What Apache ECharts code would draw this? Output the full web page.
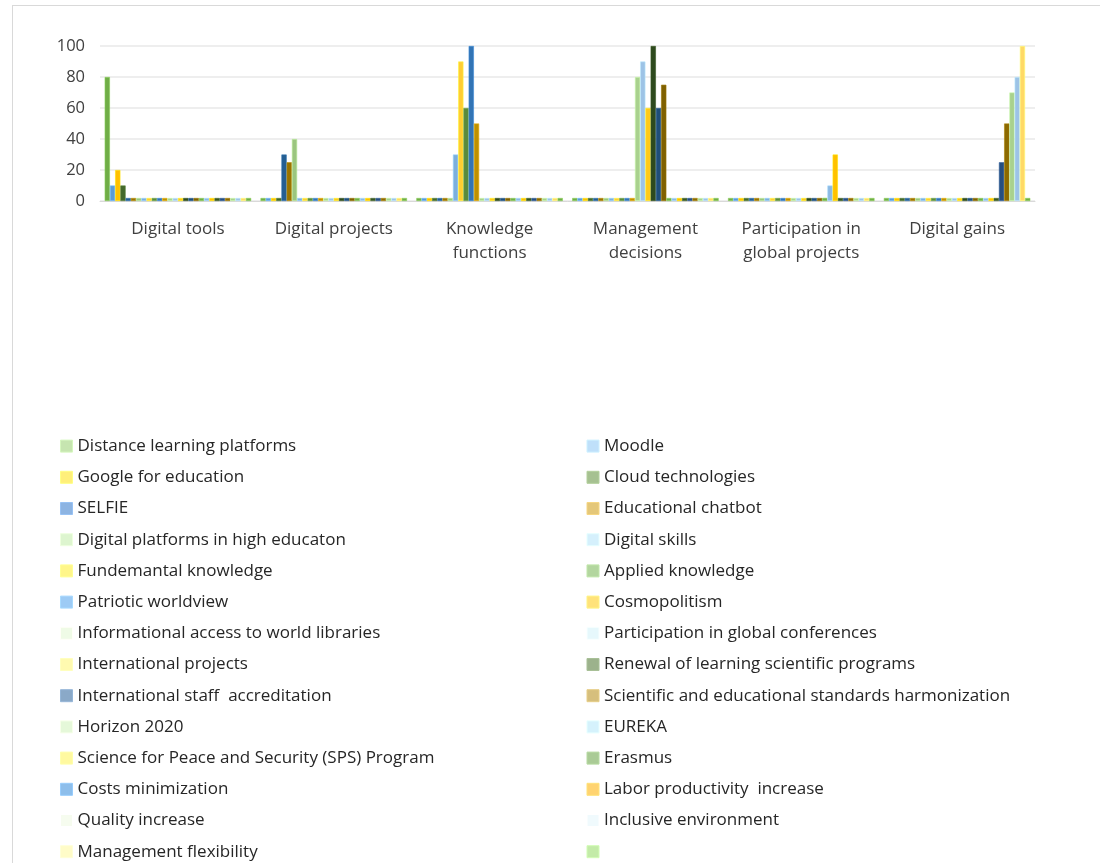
<!DOCTYPE html>
<html>
<head>
<meta charset="utf-8">
<script src="https://cdn.jsdelivr.net/npm/echarts@6/dist/echarts.min.js"></script>
<style>
html,body{margin:0;padding:0;background:#fff;}
#chart{width:1100px;height:863px;}
#frame{position:absolute;left:12px;top:5px;width:1100px;height:870px;border:1px solid #d9d9d9;pointer-events:none;}
</style>
</head>
<body>
<div id="chart"></div>
<div id="frame"></div>
<script>
const categories = ['Digital tools', 'Digital projects', 'Knowledge\nfunctions', 'Management\ndecisions', 'Participation in\nglobal projects', 'Digital gains'];
const yTicks = [0, 20, 40, 60, 80, 100];
const seriesNames = [
  'Distance learning platforms', 'Moodle', 'Google for education', 'Cloud technologies',
  'SELFIE', 'Educational chatbot', 'Digital platforms in high educaton', 'Digital skills',
  'Fundemantal knowledge', 'Applied knowledge', 'Patriotic worldview', 'Cosmopolitism',
  'Informational access to world libraries', 'Participation in global conferences', 'International projects', 'Renewal of learning scientific programs',
  'International staff  accreditation', 'Scientific and educational standards harmonization', 'Horizon 2020', 'EUREKA',
  'Science for Peace and Security (SPS) Program', 'Erasmus', 'Costs minimization', 'Labor productivity  increase',
  'Quality increase', 'Inclusive environment', 'Management flexibility', ' '
];
// values per series across the 6 categories
const seriesValues = [
  [80, 0, 0, 0, 0, 0],
  [10, 0, 0, 0, 0, 0],
  [20, 0, 0, 0, 0, 0],
  [10, 0, 0, 0, 0, 0],
  [0, 30, 0, 0, 0, 0],
  [0, 25, 0, 0, 0, 0],
  [0, 40, 0, 0, 0, 0],
  [0, 0, 30, 0, 0, 0],
  [0, 0, 90, 0, 0, 0],
  [0, 0, 60, 0, 0, 0],
  [0, 0, 100, 0, 0, 0],
  [0, 0, 50, 0, 0, 0],
  [0, 0, 0, 80, 0, 0],
  [0, 0, 0, 90, 0, 0],
  [0, 0, 0, 60, 0, 0],
  [0, 0, 0, 100, 0, 0],
  [0, 0, 0, 60, 0, 0],
  [0, 0, 0, 75, 0, 0],
  [0, 0, 0, 0, 2, 0],
  [0, 0, 0, 0, 10, 0],
  [0, 0, 0, 0, 30, 0],
  [0, 0, 0, 0, 1, 0],
  [0, 0, 0, 0, 0, 25],
  [0, 0, 0, 0, 0, 50],
  [0, 0, 0, 0, 0, 70],
  [0, 0, 0, 0, 0, 80],
  [0, 0, 0, 0, 0, 100],
  [0, 0, 0, 0, 0, 0]
];

const barColors = [
  '#70AD47', '#5B9BD5', '#FFC000', '#43682B', '#255E91', '#997300', '#9BC57F', '#7CAFDD',
  '#FFCD33', '#5A8A3C', '#3274B5', '#BF9000', '#A9D18E', '#9DC3E6', '#FFC91A', '#2E4A1E',
  '#1F4E79', '#7F6000', '#70AD47', '#8CB9E3', '#FFC000', '#375623', '#264E80', '#8C6A00',
  '#A9D18E', '#9DC3E6', '#FFD966', '#70AD47'
];
const legendColors = [
  '#C6E5B0', '#BFE0FA', '#FFEF7A', '#A6C191', '#8DB4E2', '#E4C779', '#DDF5CF', '#D5F0FC',
  '#FFF68A', '#B3D69F', '#9DCBF5', '#FFE27A', '#EFFBE6', '#E6F8FC', '#FFFAB0', '#9CB28C',
  '#8AA9C8', '#D6BF7D', '#E5F8D9', '#D5F2FC', '#FFF9A0', '#AACB96', '#8DBEEB', '#FFD370',
  '#F6FCEF', '#F0FAFD', '#FFFCC8', '#C3EBA8'
];

const FONT = 'Open Sans';
const chart = echarts.init(document.getElementById('chart'), null, {renderer: 'canvas'});

const series = seriesNames.map((name, i) => ({
  name: name,
  type: 'bar',
  data: seriesValues[i],
  barGap: '0%',
  barCategoryGap: '6%',
  barMinHeight: 3,
  itemStyle: {
    color: barColors[i],
    borderColor: echarts.color.lift(barColors[i], -0.2),
    borderWidth: 0.6
  },
  emphasis: {disabled: true},
  animation: false
}));

chart.setOption({
  animation: false,
  grid: {left: 100, right: 65, top: 46, bottom: 662, containLabel: false},
  xAxis: {
    type: 'category',
    data: categories,
    axisTick: {show: false},
    axisLine: {show: true, lineStyle: {color: '#d9d9d9'}},
    axisLabel: {
      color: '#404040', fontFamily: FONT, fontSize: 17, lineHeight: 24, margin: 16, interval: 0
    }
  },
  yAxis: {
    type: 'value',
    min: 0, max: 100, interval: 20,
    axisLine: {show: false},
    axisTick: {show: false},
    axisLabel: {
      color: '#404040', fontFamily: FONT, fontSize: 16.5, margin: 15,
      formatter: v => (yTicks.indexOf(v) >= 0 ? String(v) : '')
    },
    splitLine: {lineStyle: {color: '#e8e8e8', width: 1.5}}
  },
  legend: {
    left: 60, top: 437, width: 1040,
    padding: 0,
    orient: 'horizontal',
    itemWidth: 12, itemHeight: 12, itemGap: 13,
    icon: 'rect',
    selectedMode: false,
    textStyle: {
      color: '#262626', fontFamily: FONT, fontSize: 17, lineHeight: 18.2,
      width: 496, overflow: 'none'
    },
    data: seriesNames.map((n, i) => ({
      name: n,
      itemStyle: {color: legendColors[i], borderColor: echarts.color.lift(legendColors[i], -0.08), borderWidth: 1}
    }))
  },
  series: series
});
</script>
</body>
</html>
